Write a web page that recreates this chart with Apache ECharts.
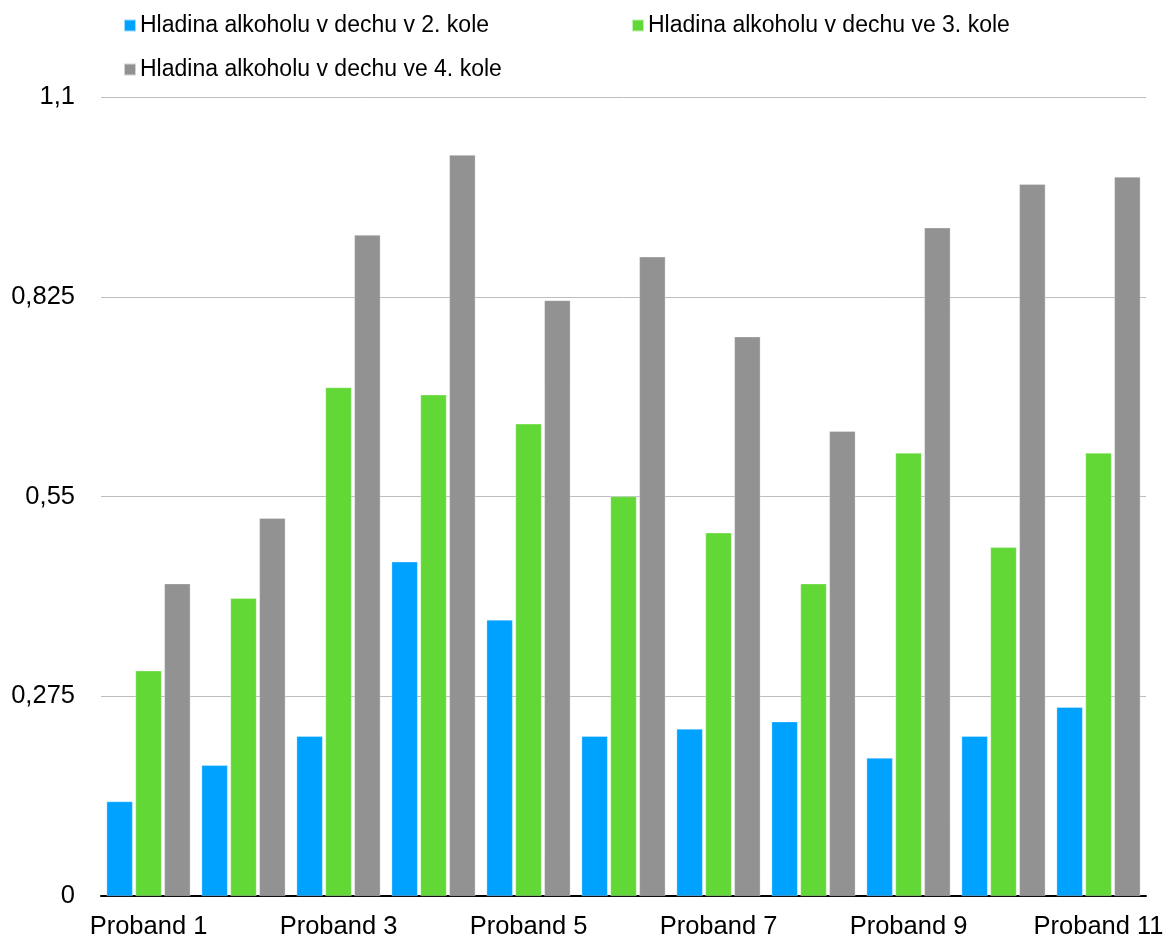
<!DOCTYPE html>
<html>
<head>
<meta charset="utf-8">
<script src="https://cdn.jsdelivr.net/npm/echarts@6/dist/echarts.min.js"></script>
<style>
  html, body { margin: 0; padding: 0; background: #fff; }
  #chart { width: 1169px; height: 942px; }
</style>
</head>
<body>
<div id="chart"></div>
<script>
// data
var categories = ["Proband 1", "Proband 2", "Proband 3", "Proband 4", "Proband 5", "Proband 6",
  "Proband 7", "Proband 8", "Proband 9", "Proband 10", "Proband 11"];
var seriesNames = ["Hladina alkoholu v dechu v 2. kole", "Hladina alkoholu v dechu ve 3. kole", "Hladina alkoholu v dechu ve 4. kole"];
var kolo2 = [0.13, 0.18, 0.22, 0.46, 0.38, 0.22, 0.23, 0.24, 0.19, 0.22, 0.26];
var kolo3 = [0.31, 0.41, 0.70, 0.69, 0.65, 0.55, 0.50, 0.43, 0.61, 0.48, 0.61];
var kolo4 = [0.43, 0.52, 0.91, 1.02, 0.82, 0.88, 0.77, 0.64, 0.92, 0.98, 0.99];
var yTicks = [0, 0.275, 0.55, 0.825, 1.1];

var colors = ["#00A2FF", "#61D836", "#929292"];
var font = "Liberation Sans, Arial, sans-serif";
var legendSize = 23;
var axisSize = 25.5;

var chart = echarts.init(document.getElementById("chart"));

// jedna legenda na polozku, at sedi pozice jako v originale
function legendAt(name, left, top) {
  return {
    data: [name],
    left: left,
    top: top,
    itemWidth: 12,
    itemHeight: 12,
    itemGap: 0,
    icon: "rect",
    textStyle: { fontFamily: font, fontSize: legendSize, color: "#000", padding: [0, 0, 0, -1] }
  };
}

var option = {
  animation: false,
  color: colors,
  legend: [
    legendAt(seriesNames[0], 118, 9),
    legendAt(seriesNames[1], 626, 9),
    legendAt(seriesNames[2], 118, 53)
  ],
  grid: { left: 101, right: 23, top: 97, bottom: 46 },
  xAxis: {
    type: "category",
    data: categories,
    axisLine: { lineStyle: { color: "#000", width: 2 } },
    axisTick: { show: false },
    axisLabel: {
      interval: 1,
      fontFamily: font,
      fontSize: axisSize,
      color: "#000",
      margin: 18
    }
  },
  yAxis: {
    type: "value",
    min: 0,
    max: yTicks[yTicks.length - 1],
    interval: yTicks[1],
    axisLine: { show: false },
    axisTick: { show: false },
    splitLine: { lineStyle: { color: "#bdbdbd", width: 1 } },
    axisLabel: {
      fontFamily: font,
      fontSize: axisSize,
      color: "#000",
      margin: 26,
      formatter: function (v) { return String(+v.toFixed(3)).replace(".", ","); }
    }
  },
  series: [
    { name: seriesNames[0], type: "bar", data: kolo2 },
    { name: seriesNames[1], type: "bar", data: kolo3 },
    { name: seriesNames[2], type: "bar", data: kolo4 }
  ].map(function (s) {
    s.barWidth = 26;
    s.barGap = "11%";
    s.itemStyle = { borderColor: "rgba(255,255,255,0.6)", borderWidth: 0.5 };
    return s;
  })
};

chart.setOption(option);
</script>
</body>
</html>
